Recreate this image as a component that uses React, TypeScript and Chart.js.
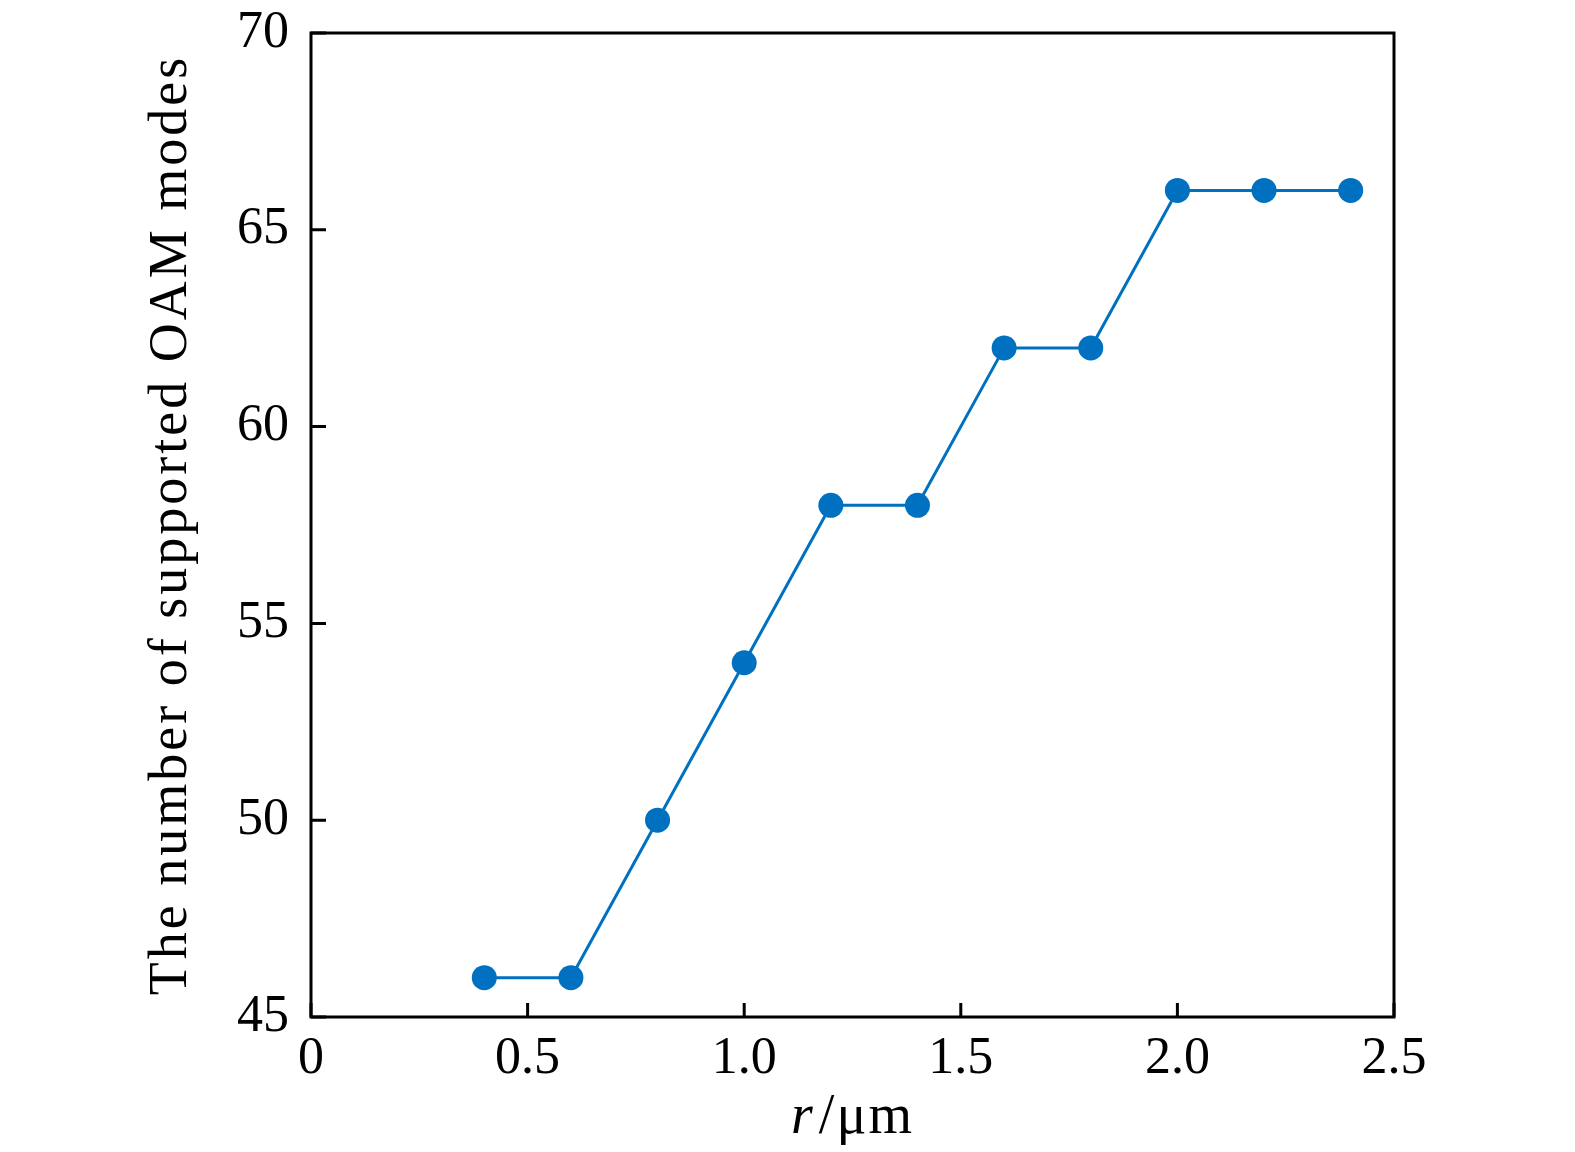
import React, { useEffect, useRef } from "react";
import { Chart, registerables } from "chart.js";

Chart.register(...registerables);

const radiusValues = [0.4, 0.6, 0.8, 1.0, 1.2, 1.4, 1.6, 1.8, 2.0, 2.2, 2.4];
const modeCounts = [46, 46, 50, 54, 58, 58, 62, 62, 66, 66, 66];
const xTickValues = [0, 0.5, 1.0, 1.5, 2.0, 2.5];
const yTickValues = [45, 50, 55, 60, 65, 70];
const yTitle = "The number of supported OAM modes";
const xTitleItalic = "r";
const xTitleRest = "/\u03bcm";

const FONT = "'Liberation Serif', 'DejaVu Serif', serif";
const COLOR = "#0070C0";

const framePlugin = {
  id: "frameTicks",
  afterDatasetsDraw(chart: any) {
    const { ctx, chartArea } = chart;
    const xs = chart.scales.x;
    const ys = chart.scales.y;
    ctx.save();
    ctx.strokeStyle = "#000";
    ctx.lineWidth = 3;
    ctx.beginPath();
    xTickValues.forEach((v) => {
      const px = xs.getPixelForValue(v);
      ctx.moveTo(px, chartArea.bottom);
      ctx.lineTo(px, chartArea.bottom - 14);
    });
    yTickValues.forEach((v) => {
      const py = ys.getPixelForValue(v);
      ctx.moveTo(chartArea.left, py);
      ctx.lineTo(chartArea.left + 15, py);
    });
    ctx.stroke();
    ctx.strokeRect(
      chartArea.left,
      chartArea.top,
      chartArea.right - chartArea.left,
      chartArea.bottom - chartArea.top
    );
    ctx.fillStyle = "#000";
    ctx.textBaseline = "alphabetic";
    // x-axis title with italic r
    const italicFont = `italic 56px ${FONT}`;
    const normalFont = `56px ${FONT}`;
    ctx.letterSpacing = "2px";
    ctx.font = italicFont;
    const w1 = ctx.measureText(xTitleItalic).width;
    ctx.font = normalFont;
    const w2 = ctx.measureText(xTitleRest).width;
    const cx = (chartArea.left + chartArea.right) / 2;
    const startX = cx - (w1 + w2 + 4) / 2;
    const baseY = 1133;
    ctx.font = italicFont;
    ctx.textAlign = "left";
    ctx.fillText(xTitleItalic, startX, baseY);
    ctx.font = normalFont;
    ctx.fillText(xTitleRest, startX + w1 + 4, baseY);
    // y-axis title
    ctx.save();
    ctx.translate(186, (chartArea.top + chartArea.bottom) / 2);
    ctx.rotate(-Math.PI / 2);
    ctx.font = `54px ${FONT}`;
    ctx.letterSpacing = "3px";
    ctx.textAlign = "center";
    ctx.fillText(yTitle, 0, 0);
    ctx.restore();
    ctx.restore();
  },
};

export default function App() {
  const ref = useRef<HTMLCanvasElement | null>(null);
  useEffect(() => {
    if (!ref.current) return;
    const chart = new Chart(ref.current, {
      type: "line",
      data: {
        datasets: [
          {
            data: radiusValues.map((x, i) => ({ x, y: modeCounts[i] })),
            borderColor: COLOR,
            backgroundColor: COLOR,
            borderWidth: 3,
            pointRadius: 12.5,
            pointHoverRadius: 12.5,
            pointBorderWidth: 0,
            pointBackgroundColor: COLOR,
            tension: 0,
            clip: false as any,
          },
        ],
      },
      options: {
        responsive: false,
        animation: false,
        events: [],
        layout: { padding: { left: 0, right: 181, top: 33, bottom: 0 } },
        plugins: {
          legend: { display: false },
          tooltip: { enabled: false },
        },
        scales: {
          x: {
            type: "linear",
            min: 0,
            max: 2.5,
            afterBuildTicks: (s: any) => {
              s.ticks = xTickValues.map((v) => ({ value: v }));
            },
            afterFit: (s: any) => {
              s.height = 135;
              s.paddingLeft = 0;
              s.paddingRight = 0;
            },
            grid: { display: false, drawTicks: false },
            border: { display: false },
            ticks: {
              color: "#000",
              padding: 11,
              font: { family: FONT, size: 52 },
              callback: (v: any) => (Number(v) === 0 ? "0" : Number(v).toFixed(1)),
            },
          },
          y: {
            type: "linear",
            min: 45,
            max: 70,
            afterBuildTicks: (s: any) => {
              s.ticks = yTickValues.map((v) => ({ value: v }));
            },
            afterFit: (s: any) => {
              s.width = 311;
              s.paddingTop = 0;
              s.paddingBottom = 0;
            },
            grid: { display: false, drawTicks: false },
            border: { display: false },
            ticks: {
              color: "#000",
              padding: 22,
              font: { family: FONT, size: 52 },
            },
          },
        },
      },
      plugins: [framePlugin],
    });
    return () => chart.destroy();
  }, []);
  return (
    <div style={{ position: "absolute", left: 0, top: 0, width: 1575, height: 1152, background: "#fff" }}>
      <canvas ref={ref} width={1575} height={1152} style={{ width: 1575, height: 1152 }} />
    </div>
  );
}
